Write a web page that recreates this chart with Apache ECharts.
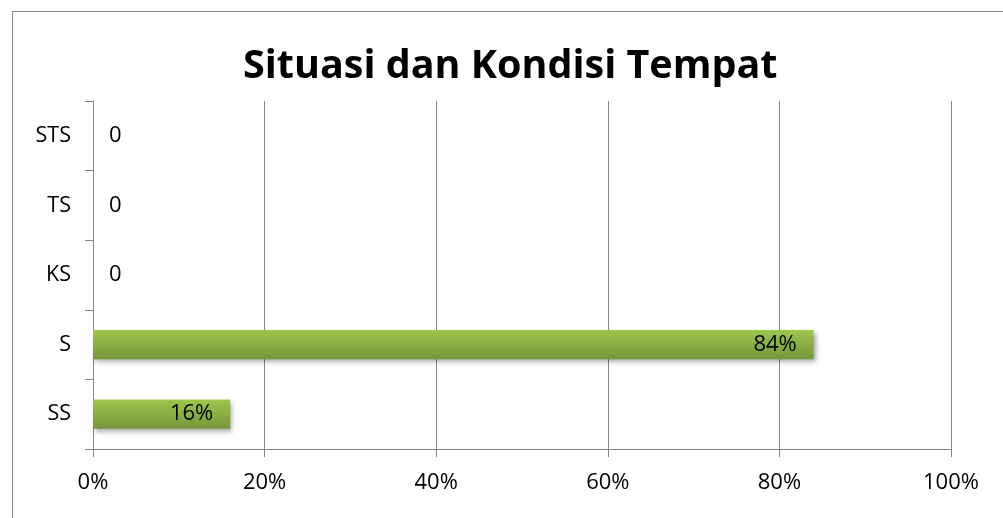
<!DOCTYPE html>
<html><head><meta charset="utf-8">
<script src="https://cdn.jsdelivr.net/npm/echarts@6/dist/echarts.min.js"></script>
<style>
html,body{margin:0;padding:0;background:#fff;}
#frame{position:absolute;left:12px;top:11px;width:1100px;height:600px;border:1px solid #8c8c8c;box-sizing:border-box;}
#c{position:absolute;left:0;top:0;width:1003px;height:518px;}
</style></head>
<body>
<div id="frame"></div>
<div id="c"></div>
<script>
const categories = ['SS', 'S', 'KS', 'TS', 'STS'];
const values = [16, 84, 0, 0, 0];
const xTicks = [0, 20, 40, 60, 80, 100];
const titleText = 'Situasi dan Kondisi Tempat';

const font = '"Open Sans", "Liberation Sans", sans-serif';
const chart = echarts.init(document.getElementById('c'), null, {renderer: 'canvas'});
chart.setOption({
  animation: false,
  title: {
    text: titleText, left: 238, top: 42,
    textStyle: {fontFamily: font, fontWeight: 'bold', fontSize: 39.5, color: '#000'}
  },
  grid: {left: 93, right: 52, top: 101, bottom: 69, containLabel: false},
  xAxis: {
    type: 'value', min: 0, max: 100, interval: 20,
    axisLine: {show: true, lineStyle: {color: '#868686'}},
    axisTick: {show: true, length: 8, inside: false, lineStyle: {color: '#868686'}},
    splitLine: {show: true, lineStyle: {color: '#868686', width: 1}},
    axisLabel: {margin: 23, color: '#000', fontFamily: font, fontSize: 22, formatter: v => v + '%'}
  },
  yAxis: {
    type: 'category', data: categories,
    axisLine: {show: true, lineStyle: {color: '#868686'}},
    axisTick: {show: true, length: 8, lineStyle: {color: '#868686'}},
    axisLabel: {margin: 22, color: '#000', fontFamily: font, fontSize: 21.5}
  },
  series: [{
    type: 'bar', barWidth: '42%',
    data: values.map(v => ({
      value: v,
      label: v === 0 ? {position: 'right', distance: 16, formatter: '0'} : {position: 'insideRight', distance: 17, formatter: '{c}%'}
    })),
    itemStyle: {
      color: new echarts.graphic.LinearGradient(0, 0, 0, 1, [
        {offset: 0, color: '#9dc64c'},
        {offset: 1, color: '#76963a'}
      ]),
      shadowColor: 'rgba(0,0,0,0.35)', shadowBlur: 5, shadowOffsetX: 2, shadowOffsetY: 3
    },
    label: {show: true, color: '#000', fontFamily: font, fontSize: 22}
  }]
});
</script>
</body></html>
